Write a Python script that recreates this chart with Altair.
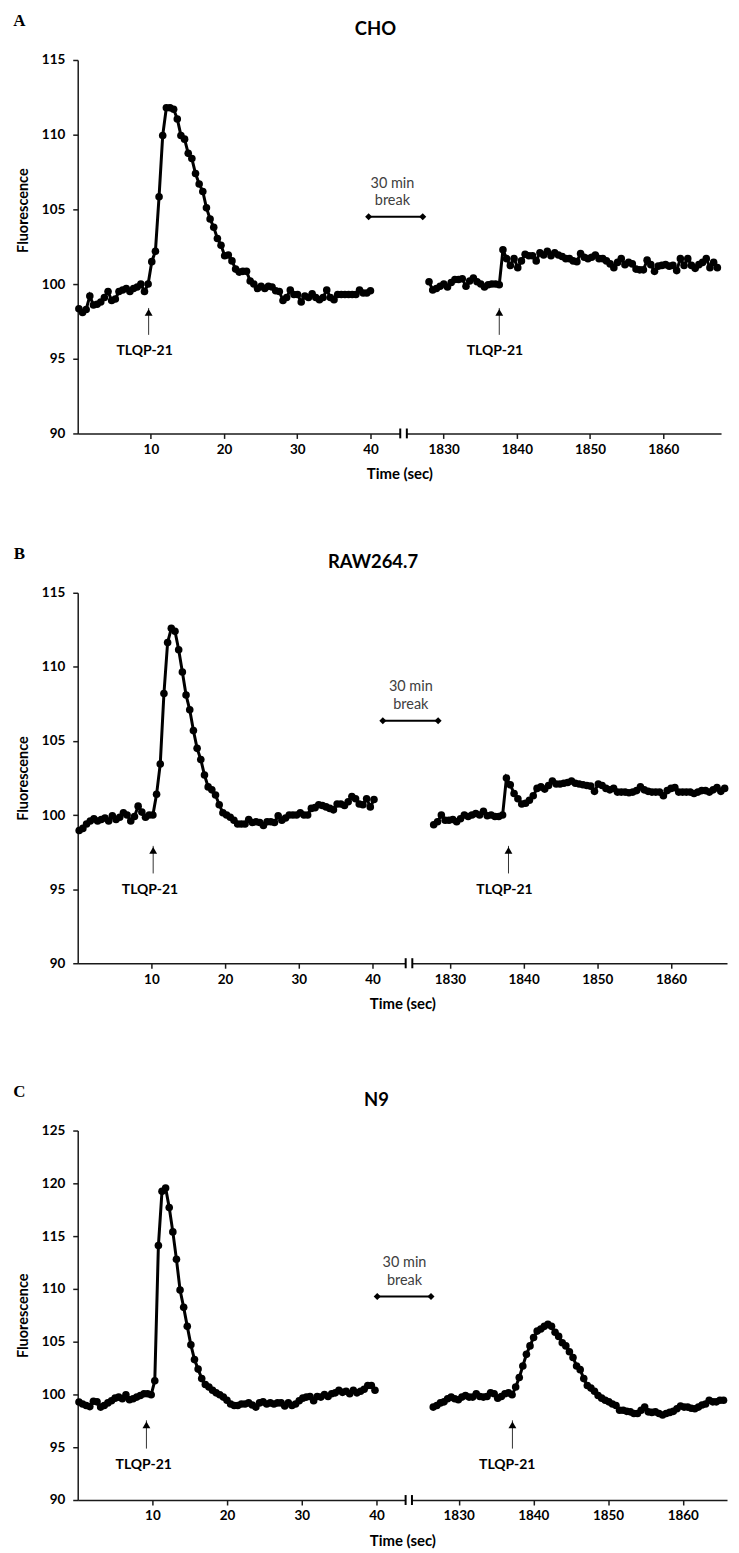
import altair as alt
import pandas as pd
import numpy as np

FONT = "Lato"

# ---------------- data ----------------
# Panel A : CHO
A_left = [98.35, 98.1, 98.3, 99.2, 98.6, 98.65, 98.8, 99.1, 99.5, 98.9,
          99.0, 99.5, 99.6, 99.7, 99.5, 99.7, 99.8, 100.0, 99.5, 100.0,
          101.5, 102.2, 105.85, 109.95, 111.8, 111.8, 111.7, 111.05, 109.95, 109.7,
          108.75, 108.4, 107.4, 106.7, 106.2, 105.1, 104.35, 103.8, 103.05, 102.6,
          101.9, 101.95, 101.55, 101.0, 100.8, 100.85, 100.85, 100.2, 100.0, 99.7,
          99.85, 99.7, 99.85, 99.8, 99.55, 99.5, 98.9, 99.1, 99.6, 99.3,
          99.3, 98.8, 99.2, 99.1, 99.35, 99.1, 98.95, 99.1, 99.6, 99.1,
          98.95, 99.3, 99.3, 99.3, 99.3, 99.3, 99.3, 99.6, 99.4, 99.4,
          99.55]
A_right = [100.16, 99.6, 99.7, 99.85, 100.0, 99.8, 100.1, 100.3, 100.3, 100.35,
           99.85, 100.2, 100.4, 100.15, 100.0, 99.8, 99.95, 100.0, 100.0, 99.95,
           102.3, 101.7, 101.25, 101.7, 101.1, 101.55, 102.0, 101.9, 101.9, 101.55,
           102.1, 101.95, 102.2, 101.9, 102.1, 101.95, 101.85, 101.7, 101.7, 101.55,
           101.5, 102.05, 101.8, 101.7, 101.8, 101.95, 101.7, 101.7, 101.55, 101.35,
           101.1, 101.45, 101.7, 101.3, 101.45, 101.35, 101.0, 100.95, 100.95, 101.6,
           101.3, 100.85, 101.2, 101.25, 101.3, 101.2, 101.25, 100.9, 101.7, 101.25,
           101.7, 101.25, 101.05, 101.3, 101.45, 101.7, 101.1, 101.45, 101.1, 101.1]
A_left_time = [0.16, 40.0]
A_right_time = [1828.0, 1867.9]

# Panel B : RAW264.7
B_left = [98.96, 99.1, 99.4, 99.6, 99.75, 99.6, 99.7, 99.8, 99.6, 99.95,
          99.7, 99.85, 100.15, 100.0, 99.6, 99.9, 100.6, 100.2, 99.85, 100.0,
          100.0, 101.4, 103.45, 108.2, 111.65, 112.6, 112.4, 111.15, 109.65, 108.1,
          107.1, 105.7, 104.5, 103.75, 102.7, 101.9, 101.7, 101.35, 100.7, 100.15,
          100.0, 99.85, 99.65, 99.4, 99.4, 99.4, 99.7, 99.5, 99.55, 99.5,
          99.3, 99.55, 99.55, 99.5, 99.95, 99.65, 99.8, 100.0, 100.0, 100.0,
          100.15, 100.0, 100.0, 100.45, 100.5, 100.7, 100.65, 100.55, 100.45, 100.35,
          100.75, 100.75, 100.65, 100.9, 101.25, 101.1, 100.75, 100.7, 101.1, 100.55,
          101.05]
B_right = [99.35, 99.55, 100.0, 99.65, 99.65, 99.7, 99.55, 99.75, 100.0, 99.9,
           100.0, 100.1, 100.0, 100.25, 99.95, 100.0, 99.9, 99.9, 100.0, 102.5,
           102.05, 101.45, 101.1, 100.75, 100.8, 101.0, 101.3, 101.8, 101.9, 101.75,
           102.0, 102.3, 102.1, 102.1, 102.15, 102.2, 102.3, 102.15, 102.1, 102.05,
           102.0, 101.95, 101.6, 102.1, 102.0, 101.8, 101.7, 101.8, 101.55, 101.55,
           101.55, 101.5, 101.55, 101.65, 101.9, 101.7, 101.6, 101.55, 101.55, 101.55,
           101.3, 101.65, 101.8, 101.85, 101.55, 101.55, 101.55, 101.55, 101.45, 101.55,
           101.65, 101.65, 101.55, 101.7, 101.85, 101.6, 101.8, 101.55]
B_left_time = [0.2, 40.2]
B_right_time = [1827.8, 1867.8]

# Panel C : N9
C_left = [99.28, 99.1, 98.95, 98.85, 99.35, 99.3, 98.8, 98.95, 99.2, 99.4,
          99.65, 99.75, 99.6, 99.97, 99.5, 99.6, 99.75, 99.9, 100.06, 100.06,
          99.97, 101.3, 114.1, 119.25, 119.56, 117.7, 115.4, 112.8, 109.9,
          108.25, 106.45, 104.7, 103.3, 102.4, 101.5, 100.95, 100.7, 100.4, 100.15,
          99.97, 99.75, 99.45, 99.1, 98.95, 98.95, 99.1, 99.1, 99.2, 99.0,
          98.8, 99.2, 99.3, 99.1, 99.2, 99.1, 99.2, 99.2, 98.9, 99.2,
          98.95, 99.1, 99.4, 99.65, 99.75, 99.8, 99.4, 99.8, 99.75, 100.0,
          99.8, 100.06, 100.15, 100.4, 100.2, 100.3, 100.06, 100.4, 100.15, 100.3,
          100.5, 100.85, 100.85, 100.4]
C_right = [98.8, 98.95, 99.2, 99.3, 99.6, 99.75, 99.6, 99.5, 99.75, 99.9,
           99.75, 99.75, 100.06, 99.8, 99.75, 99.8, 100.15, 100.06, 99.65, 99.8,
           100.06, 100.15, 99.97, 100.7, 101.6, 102.7, 103.8, 104.6, 105.4, 106.0,
           106.2, 106.45, 106.65, 106.45, 105.9, 105.5, 104.9, 104.6, 104.05, 103.5,
           102.7, 102.35, 101.5, 100.85, 100.6, 100.3, 99.9, 99.65, 99.45, 99.3,
           99.1, 98.95, 98.5, 98.5, 98.4, 98.35, 98.2, 98.2, 98.5, 98.8,
           98.35, 98.3, 98.35, 98.2, 98.05, 98.2, 98.3, 98.4, 98.65, 98.9,
           98.8, 98.8, 98.7, 98.65, 98.8, 99.0, 99.1, 99.45, 99.3, 99.3,
           99.45, 99.45, 99.65, 99.97, 99.45]
C_left_time = [0.17, 39.8]
C_right_time = [1826.6, 1866.9]

x_tick_labels = [10, 20, 30, 40, 1830, 1840, 1850, 1860]

PANELS = [
    dict(letter="A", title="CHO", left=A_left, right=A_right,
         lt=A_left_time, rt=A_right_time, off=1780.0,
         W=646, H=375, D=87.9, ymin=90, ymax=115,
         yticks=[90, 95, 100, 105, 110, 115], titleY=150.8, title_x=299,
         arrows=[[9.69, 98.4, 96.6, 9.14, 95.53], [57.6, 98.4, 96.6, 57.0, 95.53]],
         brk=[39.75, 47.14, 104.51, 43.0, 106.73, 105.53],
         axbrk=[44.07, 44.97, 0.33]),
    dict(letter="B", title="RAW264.7", left=B_left, right=B_right,
         lt=B_left_time, rt=B_right_time, off=1779.5,
         W=652, H=372, D=88.1, ymin=90, ymax=115,
         yticks=[90, 95, 100, 105, 110, 115], titleY=None, title_x=296.5,
         arrows=[[10.24, 97.92, 96.06, 9.8, 94.93], [58.45, 97.92, 96.06, 57.9, 94.93]],
         brk=[41.4, 48.9, 106.37, 45.2, 108.66, 107.42],
         axbrk=[44.5, 45.4, 0.34]),
    dict(letter="C", title="N9", left=C_left, right=C_right,
         lt=C_left_time, rt=C_right_time, off=1779.0,
         W=652, H=371, D=86.93, ymin=90, ymax=125,
         yticks=[90, 95, 100, 105, 110, 115, 120, 125], titleY=None, title_x=300,
         arrows=[[9.2, 97.55, 94.87, 8.84, 93.3], [58.2, 97.55, 94.87, 57.5, 93.3]],
         brk=[40.1, 47.3, 109.27, 43.75, 112.48, 110.75],
         axbrk=[43.9, 44.75, 0.47]),
]


def make_panel(p):
    off = p["off"]
    lt = np.linspace(p["lt"][0], p["lt"][1], len(p["left"]))
    rt = np.linspace(p["rt"][0], p["rt"][1], len(p["right"]))
    df = pd.concat([
        pd.DataFrame({"pos": lt, "value": p["left"], "seg": "before"}),
        pd.DataFrame({"pos": rt - off, "value": p["right"], "seg": "after"}),
    ], ignore_index=True)
    df = df[df["pos"] <= p["D"]]

    xvals = [v if v < 100 else v - off for v in x_tick_labels]
    xscale = alt.Scale(domain=[0, p["D"]], nice=False, zero=False)
    yscale = alt.Scale(domain=[p["ymin"], p["ymax"]], nice=False, zero=False)
    xaxis = alt.Axis(values=xvals, title="Time (sec)", grid=False, zindex=0,
                     labelExpr=f"datum.value < 45 ? datum.value : round(datum.value + {off})")
    yargs = dict(values=p["yticks"], title="Fluorescence", grid=False, zindex=0)
    if p["titleY"] is not None:
        yargs["titleY"] = p["titleY"]
    yaxis = alt.Axis(**yargs)

    X = lambda f="pos": alt.X(f"{f}:Q", scale=xscale, axis=xaxis)
    Y = lambda f="value": alt.Y(f"{f}:Q", scale=yscale, axis=yaxis)

    base = alt.Chart(df)
    line = base.mark_line(color="black", strokeWidth=3).encode(x=X(), y=Y(), detail="seg:N")
    pts = base.mark_circle(color="black", size=58, opacity=1).encode(x=X(), y=Y())

    # arrows + TLQP-21 labels
    arr = pd.DataFrame({"pos": [a[0] for a in p["arrows"]],
                        "value": [a[1] for a in p["arrows"]],
                        "value2": [a[2] for a in p["arrows"]]})
    arr_rule = alt.Chart(arr).mark_rule(color="#333333", strokeWidth=1).encode(
        x=X(), y=Y(), y2="value2:Q")
    arr_head = alt.Chart(arr).mark_point(shape="triangle-up", filled=True, size=62,
                                         color="black", opacity=1, yOffset=4.5).encode(x=X(), y=Y())
    lab = pd.DataFrame({"pos": [a[3] for a in p["arrows"]],
                        "value": [a[4] for a in p["arrows"]],
                        "txt": ["TLQP-21"] * len(p["arrows"])})
    arr_text = alt.Chart(lab).mark_text(font=FONT, fontWeight="bold", fontSize=14,
                                        color="black", baseline="middle").encode(
        x=X(), y=Y(), text="txt:N")

    # 30 min break indicator
    b = p["brk"]
    bdf = pd.DataFrame({"pos": [b[0], b[1]], "value": [b[2], b[2]]})
    b_line = alt.Chart(bdf).mark_line(color="black", strokeWidth=2).encode(x=X(), y=Y())
    b_pts = alt.Chart(bdf).mark_point(shape="diamond", filled=True, size=50,
                                      color="black", opacity=1).encode(x=X(), y=Y())
    btxt = pd.DataFrame({"pos": [b[3], b[3]], "value": [b[4], b[5]],
                         "txt": ["30 min", "break"]})
    b_text = alt.Chart(btxt).mark_text(font=FONT, fontSize=14.5, color="#404040",
                                       baseline="middle").encode(x=X(), y=Y(), text="txt:N")

    # axis break symbol
    ab = p["axbrk"]
    gap = pd.DataFrame({"pos": [ab[0]], "pos2": [ab[1]], "value": [p["ymin"]]})
    gap_rule = alt.Chart(gap).mark_rule(color="white", strokeWidth=5).encode(
        x=X(), x2="pos2:Q", y=Y())
    bars = pd.DataFrame({"pos": [ab[0], ab[1]],
                         "value": [p["ymin"] - ab[2]] * 2,
                         "value2": [p["ymin"] + ab[2]] * 2})
    bar_rule = alt.Chart(bars).mark_rule(color="black", strokeWidth=2).encode(
        x=X(), y=Y(), y2="value2:Q")

    # panel letter and title
    letter = alt.Chart(pd.DataFrame({"t": [p["letter"]]})).mark_text(
        font="Liberation Serif", fontWeight="bold", fontSize=17, color="black",
        align="center", baseline="middle").encode(
        text="t:N", x=alt.value(-58.5), y=alt.value(-39))
    title = alt.Chart(pd.DataFrame({"t": [p["title"]]})).mark_text(
        font=FONT, fontWeight="bold", fontSize=18.5, color="black",
        align="center", baseline="middle").encode(
        text="t:N", x=alt.value(p["title_x"]), y=alt.value(-31))

    return alt.layer(line, pts, arr_rule, arr_head, arr_text, b_line, b_pts, b_text,
                     gap_rule, bar_rule, letter, title).properties(
        width=p["W"], height=p["H"])


pA, pB, pC = [make_panel(p) for p in PANELS]
chart = alt.vconcat(alt.vconcat(pA, pB, spacing=63), pC, spacing=71).properties(
    padding={"left": 5, "top": 1, "right": 0, "bottom": 0}
).configure_view(stroke=None).configure_axis(
    domainColor="#1a1a1a", domainWidth=1.5, tickColor="#1a1a1a", tickWidth=1.5,
    tickSize=5, labelFont=FONT, labelFontWeight="bold", labelFontSize=13.5,
    labelColor="black", titleFont=FONT, titleFontWeight="bold", titleFontSize=15,
    titleColor="black"
).configure_axisX(labelPadding=4, titlePadding=11).configure_axisY(
    labelPadding=8, titlePadding=11, titleFontSize=14.5)

chart.save("out.html", embed_options={"renderer": "svg", "actions": False})
